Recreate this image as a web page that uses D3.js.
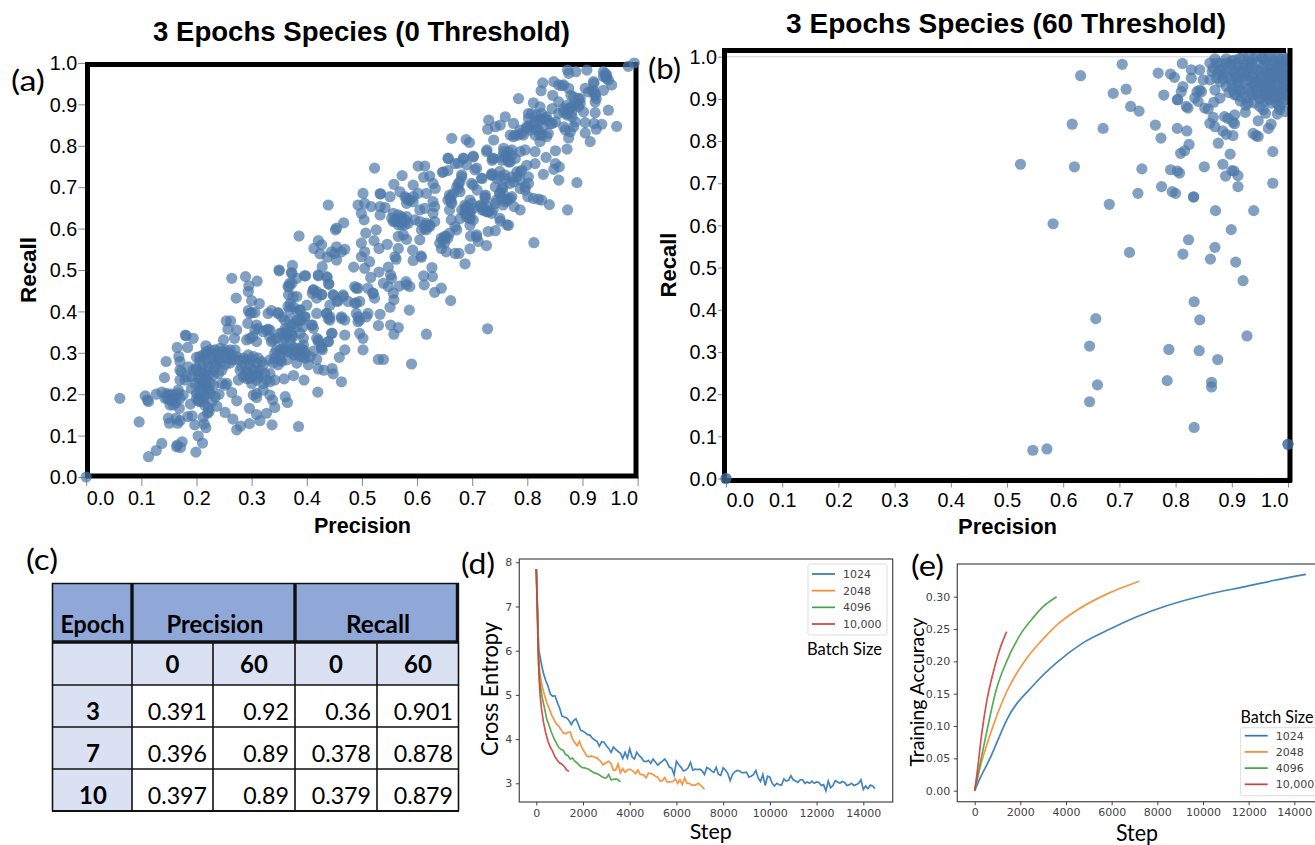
<!DOCTYPE html>
<html>
<head>
<meta charset="utf-8">
<script src="https://cdn.jsdelivr.net/npm/d3@7"></script>
<style>
  body { margin: 0; background: #fff; }
  svg { display: block; }
  text { fill: #000; }
</style>
</head>
<body>
<div id="chart"></div>
<script>
const COLORS = {
  dot: "#4c78a8",
  headerFill: "#90a8d8",
  subFill: "#d9e1f2",
  tickLabel: "#444",
  frame: "#555",
};
const SANS = "'Liberation Sans', Arial, sans-serif";
const CALIBRI = "Lato, 'Open Sans', sans-serif";
const MPL = "'DejaVu Sans', sans-serif";

const unitTicks = [0, 0.1, 0.2, 0.3, 0.4, 0.5, 0.6, 0.7, 0.8, 0.9, 1];
const stepTicks = [0, 2000, 4000, 6000, 8000, 10000, 12000, 14000];
const lossTicks = [3, 4, 5, 6, 7, 8];
const accTicks = [0, 0.05, 0.1, 0.15, 0.2, 0.25, 0.3];

const batchSizes = ["1024", "2048", "4096", "10,000"];
const batchColors = ["#2f78b3", "#f58a2e", "#46a244", "#cf3f3f"];

const tableEpochs = ["3", "7", "10"];
const tableThresholds = ["0", "60", "0", "60"];
const tableValues = [
  ["0.391", "0.92", "0.36", "0.901"],
  ["0.396", "0.89", "0.378", "0.878"],
  ["0.397", "0.89", "0.379", "0.879"],
];

// [precision, recall]
const scatterA = [
  [0,0],[.061,.19],[.096,.133],[.113,.049],[.127,.064],[.137,.081],[.165,.077],[.174,.085],[.171,.071],[.164,.073],
  [.199,.06],[.211,.082],[.203,.099],[.197,.126],[.217,.119],[.273,.114],[.28,.123],[.296,.129],[.337,.126],[.385,.122],
  [.42,.205],[.107,.196],[.113,.182],[.111,.186],[.127,.2],[.137,.205],[.149,.142],[.151,.13],[.166,.13],[.17,.136],
  [.163,.142],[.184,.146],[.192,.148],[.212,.144],[.214,.128],[.22,.154],[.223,.158],[.252,.156],[.266,.14],[.296,.166],
  [.309,.151],[.315,.136],[.327,.154],[.342,.168],[.338,.186],[.273,.184],[.264,.204],[.237,.171],[.241,.2],[.189,.176],
  [.169,.166],[.163,.18],[.152,.174],[.147,.19],[.155,.2],[.167,.21],[.149,.198],[.176,.198],[.179,.234],[.191,.214],
  [.182,.242],[.17,.258],[.173,.254],[.142,.24],[.145,.279],[.165,.313],[.168,.291],[.17,.279],[.184,.313],[.18,.343],
  [.181,.341],[.194,.335],[.185,.266],[.2,.264],[.194,.258],[.2,.289],[.217,.317],[.249,.331],[.269,.335],[.273,.355],
  [.257,.357],[.254,.377],[.262,.377],[.264,.48],[.289,.484],[.31,.473],[.295,.462],[.294,.448],[.272,.432],[.3,.426],
  [.314,.419],[.294,.402],[.297,.395],[.3,.397],[.306,.397],[.293,.371],[.309,.367],[.291,.331],[.297,.335],[.302,.339],
  [.309,.327],[.33,.395],[.336,.402],[.348,.397],[.355,.387],[.327,.355],[.333,.355],[.312,.359],[.35,.5],[.373,.492],
  [.382,.48],[.398,.486],[.368,.46],[.373,.468],[.367,.44],[.382,.436],[.37,.419],[.376,.411],[.4,.415],[.388,.403],
  [.418,.395],[.397,.387],[.382,.399],[.412,.452],[.418,.448],[.427,.44],[.418,.432],[.421,.488],[.436,.484],[.44,.466],
  [.448,.44],[.442,.415],[.436,.395],[.442,.387],[.442,.379],[.41,.367],[.446,.347],[.418,.335],[.421,.327],[.439,.327],
  [.427,.311],[.412,.304],[.418,.284],[.428,.307],[.421,.261],[.431,.258],[.446,.262],[.448,.249],[.459,.289],[.463,.23],
  [.455,.424],[.463,.383],[.206,.291],[.212,.295],[.218,.303],[.225,.307],[.234,.307],[.243,.311],[.252,.307],[.261,.307],
  [.27,.307],[.218,.283],[.228,.287],[.237,.287],[.246,.291],[.255,.287],[.264,.295],[.273,.291],[.212,.271],[.222,.267],
  [.231,.275],[.243,.275],[.252,.271],[.261,.275],[.27,.283],[.285,.287],[.294,.295],[.303,.291],[.312,.287],[.288,.271],
  [.297,.271],[.309,.275],[.321,.271],[.279,.258],[.291,.254],[.303,.258],[.315,.258],[.285,.242],[.297,.238],[.309,.234],
  [.324,.25],[.333,.25],[.342,.234],[.359,.237],[.376,.245],[.395,.234],[.327,.234],[.276,.234],[.333,.283],[.342,.287],
  [.351,.295],[.345,.307],[.354,.279],[.364,.283],[.376,.295],[.385,.303],[.394,.307],[.388,.291],[.397,.287],[.403,.271],
  [.382,.275],[.336,.327],[.345,.335],[.355,.347],[.364,.355],[.373,.343],[.361,.335],[.37,.331],[.382,.363],[.388,.347],
  [.394,.319],[.394,.335],[.306,.355],[.321,.351],[.33,.357],[.339,.331],[.373,.367],[.382,.379],[.391,.379],[.17,.234],
  [.191,.242],[.203,.242],[.212,.25],[.222,.246],[.231,.246],[.206,.226],[.215,.23],[.225,.226],[.231,.222],[.246,.226],
  [.252,.222],[.255,.226],[.155,.186],[.161,.198],[.167,.202],[.2,.19],[.206,.194],[.215,.198],[.225,.202],[.203,.184],
  [.212,.182],[.222,.166],[.228,.182],[.234,.194],[.309,.202],[.309,.192],[.303,.198],[.321,.21],[.333,.198],[.361,.194],
  [.365,.18],[.321,.226],[.333,.23],[.218,.218],[.209,.21],[.222,.214],[.215,.242],[.206,.254],[.234,.267],[.24,.25],
  [.279,.283],[.312,.25],[.3,.226],[.291,.238],[.358,.311],[.379,.311],[.364,.303],[.406,.291],
  [.523,.746],[.439,.657],[.386,.582],[.35,.498],[.374,.511],[.372,.494],[.396,.486],[.369,.468],[.366,.46],[.421,.486],
  [.437,.482],[.44,.466],[.428,.508],[.413,.552],[.421,.571],[.427,.561],[.424,.539],[.437,.531],[.445,.544],[.454,.556],
  [.469,.55],[.451,.54],[.454,.524],[.463,.544],[.452,.597],[.454,.601],[.467,.614],[.412,.452],[.41,.444],[.427,.441],
  [.448,.44],[.466,.436],[.457,.426],[.487,.46],[.493,.456],[.511,.456],[.52,.444],[.523,.432],[.49,.42],[.475,.424],
  [.485,.507],[.505,.504],[.516,.482],[.531,.495],[.548,.507],[.552,.488],[.554,.48],[.539,.468],[.548,.46],[.557,.444],
  [.558,.428],[.551,.41],[.568,.461],[.58,.472],[.581,.464],[.587,.46],[.586,.403],[.533,.393],[.53,.366],[.552,.367],
  [.566,.361],[.558,.345],[.617,.345],[.59,.273],[.53,.284],[.539,.284],[.728,.358],[.627,.506],[.612,.486],[.628,.484],
  [.613,.464],[.632,.446],[.644,.456],[.661,.426],[.514,.52],[.505,.544],[.499,.565],[.499,.532],[.507,.589],[.522,.571],
  [.531,.552],[.546,.562],[.526,.597],[.56,.532],[.562,.526],[.566,.552],[.593,.523],[.592,.548],[.607,.534],[.608,.531],
  [.605,.573],[.566,.581],[.581,.574],[.575,.585],[.502,.685],[.533,.684],[.534,.684],[.551,.677],[.493,.657],[.505,.661],
  [.499,.637],[.504,.621],[.558,.707],[.573,.728],[.593,.705],[.569,.689],[.602,.685],[.617,.685],[.517,.653],[.533,.653],
  [.542,.651],[.533,.633],[.557,.637],[.566,.633],[.572,.629],[.578,.621],[.56,.617],[.572,.609],[.584,.613],[.584,.669],
  [.581,.673],[.593,.665],[.605,.645],[.614,.649],[.629,.665],[.632,.653],[.629,.637],[.614,.609],[.605,.617],[.623,.605],
  [.617,.597],[.596,.621],[.632,.617],[.65,.581],[.647,.573],[.656,.577],[.644,.552],[.653,.544],[.659,.589],[.672,.597],
  [.696,.551],[.687,.515],[.676,.54],[.669,.54],[.697,.582],[.708,.585],[.711,.569],[.726,.559],[.729,.593],[.742,.595],
  [.602,.751],[.614,.751],[.612,.724],[.623,.727],[.629,.709],[.633,.697],[.646,.736],[.656,.74],[.656,.77],[.659,.681],
  [.662,.665],[.659,.645],[.662,.621],[.669,.605],[.681,.645],[.681,.73],[.678,.713],[.675,.697],[.699,.709],[.717,.722],
  [.69,.754],[.705,.742],[.708,.746],[.675,.758],[.684,.77],[.702,.775],[.696,.669],[.69,.649],[.696,.637],[.702,.621],
  [.714,.653],[.723,.677],[.729,.653],[.738,.645],[.75,.625],[.763,.609],[.744,.669],[.756,.701],[.735,.73],[.75,.685],
  [.737,.77],[.726,.786],[.75,.738],[.765,.766],
  [.994,1],[.983,.992],[.962,.847],[.947,.886],[.953,.947],[.938,.934],[.942,.967],[.947,.959],[.938,.979],[.944,.971],
  [.923,.906],[.923,.88],[.921,.951],[.905,.939],[.911,.93],[.92,.934],[.923,.922],[.925,.914],[.935,.852],[.925,.84],
  [.921,.854],[.905,.856],[.905,.831],[.914,.81],[.902,.882],[.875,.939],[.879,.922],[.857,.947],[.866,.947],[.863,.945],
  [.848,.955],[.828,.952],[.825,.933],[.846,.922],[.857,.906],[.873,.983],[.875,.975],[.888,.979],[.908,.983],[.92,.955],
  [.784,.914],[.811,.904],[.823,.894],[.802,.878],[.802,.866],[.808,.878],[.817,.874],[.826,.878],[.835,.87],[.845,.89],
  [.884,.918],[.893,.914],[.896,.902],[.89,.898],[.881,.894],[.875,.886],[.866,.882],[.872,.874],[.881,.87],[.887,.858],
  [.884,.846],[.878,.834],[.875,.819],[.866,.846],[.869,.838],[.851,.858],[.845,.854],[.835,.862],[.823,.862],[.814,.858],
  [.805,.85],[.799,.842],[.79,.83],[.778,.826],[.769,.826],[.817,.838],[.826,.826],[.835,.822],[.76,.87],[.775,.854],
  [.751,.85],[.742,.846],[.73,.862],[.728,.84],[.739,.814],[.695,.808],[.689,.815],[.663,.818],[.872,.792],[.851,.788],
  [.834,.772],[.851,.757],[.858,.749],[.848,.743],[.829,.731],[.857,.717],[.89,.711],[.873,.645],[.84,.658],[.826,.669],
  [.82,.671],[.811,.673],[.801,.677],[.787,.645],[.766,.608],[.812,.566],[.799,.753],[.814,.757],[.802,.725],[.802,.709],
  [.796,.701],[.796,.693],[.787,.737],[.781,.725],[.775,.713],[.76,.721],[.745,.721],[.736,.733],[.718,.721],[.757,.794],
  [.766,.786],[.772,.777],[.76,.773],[.769,.761],[.754,.765],[.739,.769],[.736,.765],[.727,.79],[.787,.786],[.796,.79],
  [.814,.786],[.823,.81],[.681,.725],[.675,.709],[.702,.773],[.684,.769],[.669,.757],[.657,.769],[.648,.737],[.702,.705],
  [.709,.693],[.724,.681],[.724,.673],[.742,.701],[.754,.697],[.769,.673],[.76,.665],[.742,.661],[.73,.641],[.718,.645],
  [.693,.649],[.687,.645],[.696,.624],[.678,.624],[.696,.608],[.66,.673],[.663,.661],[.672,.701],[.678,.689],[.736,.729],
  [.787,.697],[.776,.653],[.751,.618],[.708,.58],[.872,.898],[.857,.878],
  [.554,.625],[.563,.621],[.572,.625],[.578,.609],[.566,.609],[.557,.617],[.569,.617],[.581,.629],[.578,.677],[.587,.669],
  [.593,.677],[.581,.661],[.614,.601],[.623,.609],[.608,.597],[.617,.613],[.644,.577],[.653,.581],[.65,.565],[.641,.565],
  [.662,.677],[.656,.669],[.666,.685],[.69,.653],[.696,.641],[.702,.649],[.687,.637],[.696,.625],[.72,.653],[.726,.641],
  [.735,.637],[.75,.685],[.756,.685],[.75,.726],[.759,.73],[.768,.709],[.756,.657],[.765,.669],[.49,.456],[.493,.387],
  [.496,.379],[.493,.375],[.49,.395],[.511,.395],[.508,.387],[.469,.379],[.463,.387],[.436,.395],[.439,.383],[.487,.42],
  [.496,.424],[.52,.444],[.466,.44],[.502,.335],[.496,.347],[.502,.307],[.469,.307],[.421,.331],[.427,.315],[.469,.343],
  [.439,.327],[.445,.347],[.412,.359],[.369,.404],[.387,.404],[.396,.387],[.378,.371],[.36,.379],[.348,.395],[.369,.379],
  [.387,.379],[.409,.367],[.393,.363],[.375,.436],[.366,.412],[.333,.339],[.351,.347],[.363,.343],[.375,.339],[.357,.327],
  [.375,.315],[.39,.307],[.351,.307],[.393,.291],[.378,.295],[.363,.307],[.218,.295],[.228,.299],[.237,.299],[.246,.303],
  [.255,.299],[.264,.283],[.24,.283],[.231,.258],[.246,.258],[.206,.279],[.2,.258],[.218,.258],[.206,.234],[.197,.226],
  [.218,.234],[.212,.222],[.222,.206],[.206,.206],[.2,.202],[.212,.19],[.206,.182],[.215,.174],[.152,.186],[.146,.202],
  [.161,.19],[.158,.174],[.17,.19],[.143,.19],[.291,.283],[.3,.283],[.306,.258],[.294,.25],[.288,.246],[.3,.242],
  [.312,.242],[.306,.246],[.282,.267],[.318,.279],[.342,.299],[.351,.283],[.358,.307],[.339,.275],[.348,.271],[.379,.303],
  [.388,.311],[.397,.299],[.373,.307],[.361,.347],[.37,.351],[.361,.359],[.811,.85],[.82,.838],[.829,.846],[.814,.826],
  [.805,.838],[.823,.862],[.832,.866],[.838,.83],[.823,.826],[.799,.846],[.842,.854],[.875,.89],[.884,.898],[.872,.878],
  [.881,.882],[.893,.894],[.866,.89],[.896,.914],[.757,.786],[.763,.777],[.772,.79],[.754,.773],[.766,.761],[.778,.769],
  [.781,.737],[.772,.725],[.79,.741],[.787,.717],[.693,.645],[.687,.657],[.699,.661],[.721,.645],[.715,.657],[.727,.641],
  [.69,.628],[.763,.669],[.772,.677],[.754,.673],[.784,.826],[.775,.822],[.793,.826],[.787,.838],[.917,.934],[.923,.926],
  [.938,.967],[.944,.963],[.941,.975],
];

const scatterB = [
  [0,0],[1,.081],[.524,.745],[.62,.739],[.631,.955],[.616,.84],[.582,.604],[.718,.536],[.813,.532],[.87,.548],
  [.823,.566],[.862,.52],[.907,.513],[.899,.59],[.871,.635],[.939,.635],[.92,.469],[.833,.419],[.843,.376],[.658,.379],
  [.927,.338],[.647,.314],[.788,.306],[.842,.303],[.875,.282],[.785,.232],[.864,.228],[.864,.217],[.661,.222],[.647,.182],
  [.833,.121],[.546,.067],[.571,.07],[.705,.982],[.689,.913],[.712,.923],[.671,.83],[.72,.882],[.735,.871],[.769,.961],
  [.791,.959],[.798,.951],[.812,.984],[.828,.969],[.828,.949],[.779,.909],[.813,.929],[.81,.917],[.804,.898],[.803,.898],
  [.819,.882],[.822,.878],[.838,.917],[.843,.921],[.834,.902],[.84,.894],[.846,.917],[.852,.878],[.858,.876],[.868,.892],
  [.879,.902],[.87,.921],[.905,.862],[.887,.858],[.893,.854],[.902,.845],[.905,.841],[.867,.856],[.861,.842],[.87,.834],
  [.764,.838],[.774,.807],[.803,.83],[.82,.824],[.824,.792],[.816,.777],[.809,.771],[.884,.824],[.89,.816],[.902,.813],
  [.876,.795],[.897,.769],[.973,.775],[.74,.734],[.791,.732],[.803,.729],[.807,.724],[.851,.739],[.884,.745],[.9,.73],
  [.904,.729],[.911,.718],[.889,.717],[.973,.7],[.911,.692],[.775,.692],[.794,.68],[.8,.676],[.733,.676],[.832,.668],
  [.832,.667],[.682,.65],[.938,.818],[.943,.813],[.947,.811],[.965,.83],[.97,.84],[.947,.848],[.924,.868],[.96,.866],
  [.981,.864],[.985,.882],
  [.843,.969],[.849,.945],[.861,.985],[.867,.973],[.873,.985],[.878,.969],[.884,.949],[.861,.945],[.873,.949],[.884,.973],
  [.893,.953],[.899,.981],[.905,.992],[.914,.996],[.92,1],[.929,.988],[.938,.996],[.947,.988],[.956,.996],[.965,1],
  [.973,1],[.982,1],[.991,1],[.997,.996],[.902,.969],[.911,.977],[.92,.973],[.929,.965],[.938,.973],[.947,.969],
  [.956,.977],[.965,.981],[.973,.985],[.982,.981],[.991,.985],[.997,.973],[.899,.945],[.908,.953],[.917,.949],[.926,.945],
  [.935,.953],[.944,.949],[.953,.953],[.962,.957],[.97,.961],[.979,.961],[.988,.961],[.996,.953],[.902,.921],[.911,.929],
  [.92,.925],[.929,.925],[.938,.929],[.947,.929],[.956,.933],[.965,.937],[.973,.941],[.982,.941],[.991,.937],[.997,.929],
  [.908,.909],[.917,.905],[.926,.902],[.935,.909],[.944,.909],[.953,.913],[.962,.917],[.97,.921],[.979,.921],[.988,.917],
  [.996,.909],[.929,.89],[.941,.89],[.95,.882],[.959,.894],[.967,.898],[.976,.902],[.985,.902],[.994,.898],[.956,.874],
  [.975,.99],[.985,.99],[.995,.99],[.96,.99],[.95,.965],[.96,.965],[.97,.97],[.98,.97],[.99,.975],[.955,.94],
  [.965,.945],[.975,.95],[.985,.95],[.995,.94],[.96,.92],[.97,.93],[.98,.93],[.99,.925],[.995,.915],[.985,.91],
  [.93,.975],[.925,.955],[.915,.965],[.94,.96],[.945,.94],[.935,.94],[.955,.93],[.965,.91],[.975,.915],[.98,.89],
  [.865,.965],[.875,.96],[.885,.96],[.89,.985],[.88,.985],[.87,.995],[.89,.995],[.9,.99],[.895,.97],[.905,.96],
  [.88,.94],[.89,.93],[.9,.935],[.91,.94],[.915,.92],[.905,.91],[.895,.915],[.915,.895],[.925,.885],[.91,.985],
  [.925,.98],[.935,.985],[.945,1],[.955,1],[.93,1],[.91,.95],[.92,.96],[.94,.935],[.935,.915],[.95,.9],
  [.96,.905],[.945,.915],[.97,.89],[.99,.89],[.995,.87],[.985,.875],[.965,.96],[.97,.955],[.985,.97],[.995,.96],
  [.99,.95],[.98,.955],
];

const loss1024 = [[0,7.85],[50,7],[100,6.05],[200,5.75],[300,5.5],[400,5.33],[500,5.2],[600,5.02],[700,4.97],[800,4.98],[900,4.83],[1000,4.7],[1100,4.52],[1200,4.5],[1300,4.48],[1400,4.42],[1500,4.33],[1600,4.42],[1700,4.46],[1800,4.33],[1900,4.2],[2000,4.18],[2100,4.14],[2200,4.1],[2300,4.09],[2400,4.02],[2500,3.98],[2600,3.95],[2700,3.84],[2800,3.94],[2900,3.93],[3000,3.85],[3100,3.79],[3200,3.7],[3300,3.82],[3400,3.77],[3500,3.72],[3600,3.68],[3700,3.56],[3800,3.7],[3900,3.57],[4000,3.78],[4100,3.6],[4200,3.55],[4300,3.7],[4400,3.63],[4500,3.58],[4600,3.5],[4700,3.49],[4800,3.52],[4900,3.45],[5000,3.55],[5100,3.48],[5200,3.41],[5300,3.46],[5400,3.5],[5500,3.55],[5600,3.47],[5700,3.36],[5800,3.34],[5900,3.19],[6000,3.5],[6100,3.42],[6200,3.36],[6300,3.28],[6400,3.3],[6500,3.35],[6600,3.47],[6700,3.3],[6800,3.32],[6900,3.31],[7000,3.32],[7100,3.28],[7200,3.2],[7300,3.36],[7400,3.33],[7500,3.28],[7600,3.25],[7700,3.36],[7800,3.2],[7900,3.18],[8000,3.35],[8100,3.3],[8200,3.22],[8300,3.06],[8400,3.2],[8500,3.26],[8600,3.29],[8700,3.28],[8800,3.24],[8900,3.24],[9000,3.25],[9100,3.14],[9200,3.16],[9300,3.2],[9400,3.29],[9500,3.12],[9600,3.04],[9700,3.2],[9800,2.95],[9900,3.16],[10000,3.14],[10100,3],[10200,2.94],[10300,3],[10400,2.97],[10500,2.96],[10600,3.1],[10700,3.05],[10800,3.07],[10900,3.17],[11000,3.08],[11100,3.05],[11200,3.02],[11300,3.08],[11400,3.08],[11500,3],[11600,3.03],[11700,3],[11800,3.05],[11900,3],[12000,3.03],[12100,3.02],[12200,2.95],[12300,2.97],[12400,2.83],[12500,3.05],[12600,2.9],[12700,2.95],[12800,3.06],[12900,3.03],[13000,3],[13100,3.04],[13200,3.02],[13300,2.95],[13400,2.97],[13500,3],[13600,2.95],[13700,2.97],[13800,3],[13900,3.08],[14000,2.86],[14100,2.94],[14200,2.88],[14300,2.96],[14400,2.94],[14500,2.88]];
const loss2048 = [[0,7.85],[50,6.9],[100,5.9],[150,5.5],[250,5.2],[350,5],[450,4.82],[550,4.7],[650,4.55],[750,4.45],[850,4.35],[950,4.3],[1050,4.22],[1150,4.14],[1250,4.12],[1350,4.15],[1450,4.16],[1550,4],[1650,3.92],[1750,3.85],[1850,3.95],[1950,3.8],[2050,3.72],[2150,3.62],[2250,3.6],[2350,3.62],[2450,3.6],[2600,3.57],[2750,3.5],[2850,3.42],[3000,3.47],[3100,3.5],[3200,3.45],[3300,3.3],[3400,3.3],[3500,3.44],[3600,3.24],[3700,3.33],[3800,3.25],[3900,3.3],[4000,3.32],[4150,3.27],[4250,3.22],[4350,3.3],[4450,3.2],[4600,3.19],[4700,3.12],[4800,3.23],[4900,3.22],[5000,3.2],[5100,3.16],[5200,3.14],[5300,3.05],[5400,3.06],[5500,3.13],[5600,3.03],[5750,3.03],[5850,3.04],[5950,3.1],[6050,3],[6150,3.08],[6250,2.97],[6350,3.12],[6450,3],[6550,3],[6650,2.96],[6800,2.96],[6950,3],[7050,2.95],[7200,2.87]];
const loss4096 = [[0,7.85],[50,6.8],[100,5.7],[150,5.3],[250,4.95],[350,4.7],[450,4.45],[550,4.3],[650,4.15],[750,4.02],[850,3.92],[950,3.82],[1050,3.77],[1150,3.75],[1250,3.65],[1350,3.63],[1450,3.55],[1550,3.57],[1650,3.5],[1750,3.46],[1850,3.4],[1950,3.36],[2050,3.35],[2200,3.33],[2350,3.28],[2500,3.23],[2600,3.22],[2750,3.17],[2900,3.12],[3000,3.12],[3100,3.2],[3200,3.08],[3300,3.09],[3400,3.1],[3500,3.08],[3600,3.03]];
const loss10000 = [[0,7.85],[40,7],[80,6],[120,5.4],[160,5],[220,4.7],[300,4.4],[400,4.15],[500,3.95],[600,3.82],[700,3.72],[800,3.6],[900,3.52],[1000,3.46],[1100,3.43],[1200,3.38],[1300,3.3],[1400,3.27]];

const acc1024 = [[0,0],[230,.019],[670,.05],[1110,.086],[1400,.109],[2570,.163],[3590,.198],[4760,.229],[5930,.25],[7100,.269],[8410,.286],[10160,.303],[11900,.316],[13080,.325],[14510,.3345]];
const acc2048 = [[0,0],[230,.035],[670,.086],[1400,.153],[2280,.205],[2930,.232],[3590,.256],[4470,.279],[5780,.304],[7210,.324]];
const acc4096 = [[0,0],[230,.04],[525,.091],[960,.158],[1400,.2],[1990,.241],[2570,.268],[3010,.285],[3590,.3]];
const acc10000 = [[0,0],[115,.03],[300,.086],[525,.138],[820,.184],[1110,.22],[1400,.246]];

const svg = d3
  .select("#chart")
  .append("svg")
  .attr("width", 1315)
  .attr("height", 845);

function addText(str, x, y, font, size, opts = {}) {
  const t = svg
    .append("text")
    .attr("x", x)
    .attr("y", y)
    .attr("font-family", font)
    .attr("font-size", size)
    .attr("font-weight", opts.bold ? "bold" : "normal")
    .attr("text-anchor", opts.anchor || "middle")
    .text(str);
  if (opts.length) {
    t.attr("textLength", opts.length).attr("lengthAdjust", "spacingAndGlyphs");
  }
  if (opts.rotate) t.attr("transform", `rotate(-90,${x},${y})`);
  return t;
}

function styleUnitLabels(axis) {
  axis
    .selectAll("text")
    .attr("font-family", SANS)
    .attr("font-size", 21)
    .attr("textLength", 27.5)
    .attr("lengthAdjust", "spacingAndGlyphs");
}

function drawScatter(cfg) {
  const x = d3.scaleLinear().domain([0, 1]).range(cfg.xRange);
  const y = d3.scaleLinear().domain([0, 1]).range(cfg.yRange);

  if (cfg.viewStroke) {
    svg
      .append("rect")
      .attr("x", x(0))
      .attr("y", y(1))
      .attr("width", x(1) - x(0))
      .attr("height", y(0) - y(1))
      .attr("fill", "none")
      .attr("stroke", "#ddd")
      .attr("stroke-width", 1.5);
  }

  const xAxis = svg
    .append("g")
    .attr("transform", `translate(0,${y(0)})`)
    .call(d3.axisBottom(x).tickValues(unitTicks).tickSize(9).tickPadding(4.5).tickFormat(d3.format(".1f")));
  xAxis.select(".domain").remove();
  xAxis.selectAll("line").attr("stroke", "#888");
  styleUnitLabels(xAxis);
  xAxis
    .selectAll("text")
    .attr("text-anchor", (d) => (d === 0 ? "start" : d === 1 ? "end" : "middle"));

  const yAxis = svg
    .append("g")
    .attr("transform", `translate(${x(0)},0)`)
    .call(d3.axisLeft(y).tickValues(unitTicks).tickSize(8).tickPadding(1).tickFormat(d3.format(".1f")));
  yAxis.select(".domain").remove();
  yAxis.selectAll("line").attr("stroke", "#888");
  styleUnitLabels(yAxis);

  const frame = () =>
    svg
      .append("path")
      .attr("d", cfg.framePath)
      .attr("fill", "none")
      .attr("stroke", "#000")
      .attr("stroke-width", 5);
  const dots = (rows) =>
    svg
      .append("g")
      .selectAll("circle")
      .data(rows)
      .join("circle")
      .attr("cx", (d) => x(d[0]))
      .attr("cy", (d) => y(d[1]))
      .attr("r", 5.6)
      .attr("fill", COLORS.dot)
      .attr("fill-opacity", 0.7);

  if (cfg.frameOnTop) {
    dots(cfg.data);
    frame();
    dots(cfg.data.filter((d) => d[1] === 0 || d[0] === 1));
  } else {
    frame();
    dots(cfg.data);
  }

  addText(cfg.title, cfg.titleX, cfg.titleY, SANS, 27, { bold: true, length: cfg.titleLen });
  addText("Precision", cfg.labelX, cfg.labelY, SANS, 22, { bold: true, length: cfg.labelLen });
  addText("Recall", cfg.recallX, cfg.recallY, SANS, 22, { bold: true, rotate: true, length: cfg.recallLen });
}

drawScatter({
  data: scatterA,
  xRange: [86.2, 637.6],
  yRange: [477, 63],
  framePath: "M87.5,64.5H636V476H87.5Z",
  title: "3 Epochs Species (0 Threshold)",
  titleX: 361.5,
  titleY: 41,
  titleLen: 417,
  labelX: 362.5,
  labelY: 533,
  labelLen: 97,
  recallX: 36,
  recallY: 270,
  recallLen: 66,
});

drawScatter({
  data: scatterB,
  xRange: [726, 1288],
  yRange: [478.5, 56.7],
  viewStroke: true,
  frameOnTop: true,
  framePath: "M724,50.5H1286M1290,48V482M722,480.5H1292M724.5,48V482",
  title: "3 Epochs Species (60 Threshold)",
  titleX: 1006,
  titleY: 33,
  titleLen: 440,
  labelX: 1007.5,
  labelY: 534,
  labelLen: 99,
  recallX: 676,
  recallY: 265,
  recallLen: 65,
});

// panel letters
addText("(a)", 28, 91, CALIBRI, 28, { length: 34 });
addText("(b)", 664.5, 79, CALIBRI, 28, { length: 33 });
addText("(c)", 42, 570, CALIBRI, 28, { length: 32 });
addText("(d)", 478, 574, CALIBRI, 28, { length: 34 });
addText("(e)", 927.5, 576, CALIBRI, 28, { length: 33 });

function drawTable() {
  const columns = ["epoch", "p0", "p60", "r0", "r60"];
  const colLeft = d3.scaleOrdinal().domain(columns).range([52, 132, 213, 295, 377]);
  const colRight = d3.scaleOrdinal().domain(columns).range([132, 213, 295, 377, 459]);
  const rowNames = ["header", "sub", ...tableEpochs];
  const rowTop = d3.scaleOrdinal().domain(rowNames).range([583, 642, 685, 727, 769]);
  const rowBottom = d3.scaleOrdinal().domain(rowNames).range([642, 685, 727, 769, 811]);

  const cells = d3.cross(rowNames, columns).map(([row, col]) => ({ row, col }));
  svg
    .append("g")
    .selectAll("rect")
    .data(cells)
    .join("rect")
    .attr("x", (d) => colLeft(d.col))
    .attr("y", (d) => rowTop(d.row))
    .attr("width", (d) => colRight(d.col) - colLeft(d.col))
    .attr("height", (d) => rowBottom(d.row) - rowTop(d.row))
    .attr("fill", (d) => {
      if (d.row === "header") return COLORS.headerFill;
      return d.row === "sub" || d.col === "epoch" ? COLORS.subFill : "#fff";
    });

  const rule = (x1, y1, x2, y2, w) =>
    svg
      .append("line")
      .attr("x1", x1)
      .attr("y1", y1)
      .attr("x2", x2)
      .attr("y2", y2)
      .attr("stroke", "#111")
      .attr("stroke-width", w);

  rowNames.slice(2).forEach((r) => rule(52, rowTop(r), 459, rowTop(r), 1.6));
  rule(52, rowBottom("10"), 459, rowBottom("10"), 1.8);
  rule(52, 583.5, 459, 583.5, 1.6);
  rule(52, rowTop("sub"), 459, rowTop("sub"), 3.4);
  columns.slice(1).forEach((c) => rule(colLeft(c), 642, colLeft(c), 811, 1.6));
  rule(52.5, 583, 52.5, 811, 1.6);
  rule(458.5, 642, 458.5, 811, 1.6);
  [132, 295, 457.5].forEach((c) => rule(c, 583, c, 642, 3.4));

  addText("Epoch", 92.5, 633, CALIBRI, 24, { bold: true, length: 64 });
  addText("Precision", 215, 633, CALIBRI, 24, { bold: true, length: 97 });
  addText("Recall", 378, 633, CALIBRI, 24, { bold: true, length: 64 });

  tableThresholds.forEach((t, i) => {
    const c = columns[i + 1];
    addText(t, (colLeft(c) + colRight(c)) / 2, 673, CALIBRI, 24, { bold: true });
  });
  tableEpochs.forEach((epoch, r) => {
    const base = rowBottom(epoch) - 7.5;
    addText(epoch, 93, base, CALIBRI, 24, { bold: true });
    tableValues[r].forEach((v, i) => {
      addText(v, colRight(columns[i + 1]) - 6, base, CALIBRI, 23.2, { anchor: "end" });
    });
  });
}
drawTable();

function drawLines(cfg) {
  const x = d3.scaleLinear().domain([0, 14000]).range(cfg.xRange);
  const y = d3.scaleLinear().domain(cfg.yDomain).range(cfg.yRange);
  const [fx0, fx1, fy0, fy1] = cfg.frame;

  svg
    .append("rect")
    .attr("x", fx0)
    .attr("y", fy0)
    .attr("width", fx1 - fx0)
    .attr("height", fy1 - fy0)
    .attr("fill", "none")
    .attr("stroke", COLORS.frame)
    .attr("stroke-width", 1.3);

  const xAxis = svg
    .append("g")
    .attr("transform", `translate(0,${fy1})`)
    .call(d3.axisBottom(x).tickValues(stepTicks).tickSize(3.5).tickPadding(3.5).tickFormat(d3.format("d")));
  const yAxis = svg
    .append("g")
    .attr("transform", `translate(${fx0},0)`)
    .call(d3.axisLeft(y).tickValues(cfg.yTicks).tickSize(3.5).tickPadding(3.5).tickFormat(d3.format(cfg.yFormat)));
  [xAxis, yAxis].forEach((axis) => {
    axis.select(".domain").remove();
    axis.selectAll("line").attr("stroke", COLORS.tickLabel);
    axis.selectAll("text").attr("font-family", MPL).attr("font-size", 11).style("fill", COLORS.tickLabel);
  });

  const line = d3
    .line()
    .x((d) => x(d[0]))
    .y((d) => y(d[1]))
    .curve(cfg.curve);
  svg
    .append("g")
    .selectAll("path")
    .data(cfg.series)
    .join("path")
    .attr("d", line)
    .attr("fill", "none")
    .attr("stroke", (d, i) => batchColors[i])
    .attr("stroke-width", 1.7)
    .attr("stroke-opacity", 0.9);

  const [lx0, lx1, ly0, ly1] = cfg.legendBox;
  svg
    .append("rect")
    .attr("x", lx0)
    .attr("y", ly0)
    .attr("width", lx1 - lx0)
    .attr("height", ly1 - ly0)
    .attr("rx", 2)
    .attr("fill", "#fff")
    .attr("fill-opacity", 0.8)
    .attr("stroke", "#ddd");

  const legendY = d3.scalePoint().domain(batchSizes).range(cfg.legendRows);
  batchSizes.forEach((b, i) => {
    svg
      .append("line")
      .attr("x1", lx0 + 4)
      .attr("x2", lx0 + 27)
      .attr("y1", legendY(b))
      .attr("y2", legendY(b))
      .attr("stroke", batchColors[i])
      .attr("stroke-width", 1.7);
    addText(b, lx0 + 35, legendY(b) + 4, MPL, 11, { anchor: "start" }).style("fill", COLORS.tickLabel);
  });
}

drawLines({
  series: [loss1024, loss2048, loss4096, loss10000],
  xRange: [536.3, 863.3],
  yDomain: [3, 8],
  yRange: [783.3, 562.3],
  yTicks: lossTicks,
  yFormat: "d",
  frame: [519.3, 892.7, 559, 802],
  curve: d3.curveLinear,
  legendBox: [808, 887, 564, 635],
  legendRows: [574, 624],
});
addText("Step", 710.7, 839, CALIBRI, 22, { length: 42 });
addText("Cross Entropy", 498, 689, CALIBRI, 23, { rotate: true, length: 134 });
addText("Batch Size", 844.5, 655, CALIBRI, 17.5, { length: 75 });

drawLines({
  series: [acc1024, acc2048, acc4096, acc10000],
  xRange: [974.7, 1294.3],
  yDomain: [0, 0.3],
  yRange: [790.7, 596.7],
  yTicks: accTicks,
  yFormat: ".2f",
  frame: [957.3, 1330, 564, 801.7],
  curve: d3.curveMonotoneX,
  legendBox: [1240.7, 1330, 727.7, 795.7],
  legendRows: [735.7, 784.3],
});
addText("Step", 1137, 841, CALIBRI, 23, { length: 42 });
addText("Training Accuracy", 924, 692, CALIBRI, 20, { rotate: true, length: 149 });
addText("Batch Size", 1277, 722.5, CALIBRI, 17.5, { length: 73 });
</script>
</body>
</html>
